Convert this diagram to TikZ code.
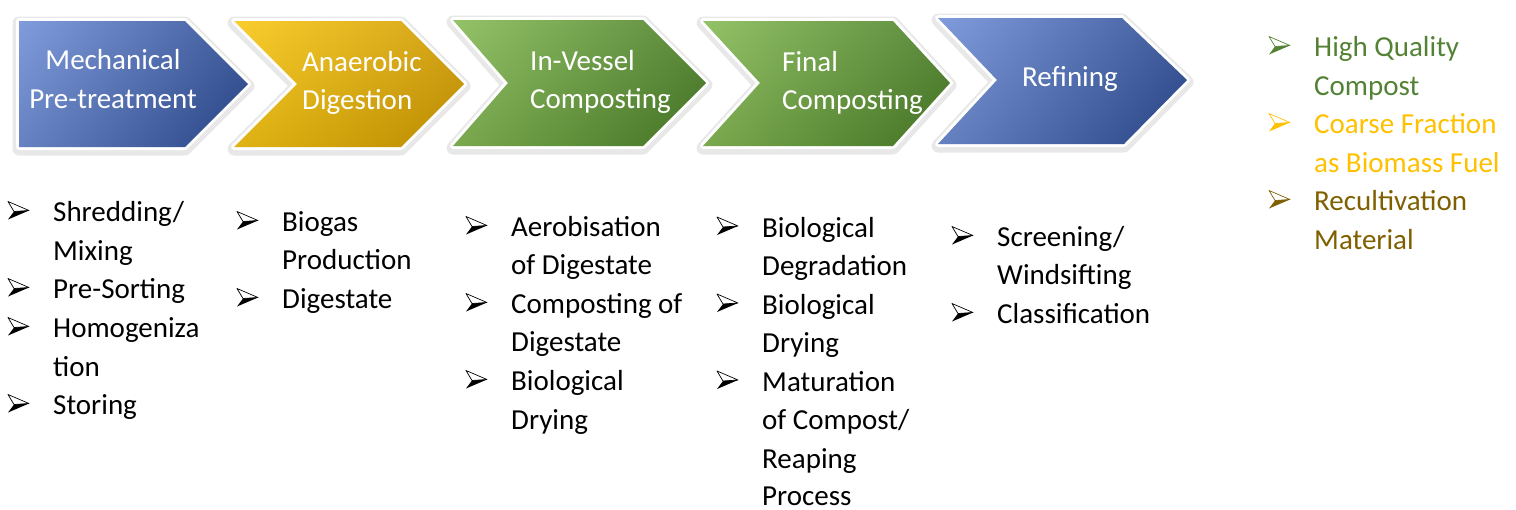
\documentclass[tikz,border=0pt]{standalone}
\usepackage{fontspec}
\setmainfont{Carlito}
\definecolor{bluL}{HTML}{7391D8}
\definecolor{bluR}{HTML}{2C4B92}
\definecolor{yelL}{HTML}{F9C816}
\definecolor{yelR}{HTML}{CF9A00}
\definecolor{grnL}{HTML}{88BC58}
\definecolor{grnR}{HTML}{4A7E27}
\definecolor{txtgreen}{HTML}{548235}
\definecolor{txtyellow}{HTML}{FFC000}
\definecolor{txtbrown}{HTML}{7F6000}
\newcommand\mychev[3]{%
  \path[glow] #1;
  \path[rim] #1;
  \shade[left color=#2, right color=#3] #1;
  \shade[top color=white, bottom color=black, fill opacity=0.10] #1;
}
\begin{document}
\begin{tikzpicture}[x=1pt,y=-1pt,line join=round]
\useasboundingbox (0,0) rectangle (1516,509);
\tikzset{
  lbl/.style={text=white, font=\fontsize{29}{38.5}\selectfont, inner sep=0pt},
  txt/.style={anchor=base west, inner sep=0pt, font=\fontsize{29}{38.5}\selectfont},
  glow/.style={draw=black!9, line width=13, yshift=-2pt},
  rim/.style={draw=white, line width=6},
  pics/bul/.style={code={
    \draw[#1, fill=white, line width=0.7] (0,-9) -- (21,0) -- (6,1) -- cycle;
    \fill[#1] (6,1) -- (21,0) -- (0,9) -- cycle;}}
}
% chevrons
\mychev{(19,21) -- (185,21) -- (248,84) -- (185,147) -- (19,147) -- cycle}{bluL}{bluR}
\mychev{(234,21) -- (401,21) -- (464,84) -- (401,147) -- (234,147) -- (297,84) -- cycle}{yelL}{yelR}
\mychev{(453,20) -- (643,20) -- (706,83) -- (643,146) -- (453,146) -- (508,83) -- cycle}{grnL}{grnR}
\mychev{(703,21) -- (893,21) -- (950,83) -- (893,146) -- (703,146) -- (760,83) -- cycle}{grnL}{grnR}
\mychev{(938,18) -- (1122,18) -- (1187,80) -- (1124,144) -- (938,144) -- (997,80) -- cycle}{bluL}{bluR}
% chevron labels
\node[lbl, align=center] (mech) at (113,79) {Mechanical\\Pre-treatment};
\node[lbl, align=left, anchor=west] (anae) at (302,83) {Anaerobic\\Digestion};
\node[lbl, align=left, anchor=west] (invs) at (530,82) {In-Vessel\\Composting};
\node[lbl, align=left, anchor=west] (finl) at (782,83) {Final\\Composting};
\node[lbl] (refn) at (1070,79) {Refining};
% column 1
\node[txt] (a1) at (53,221.5) {Shredding/};
\node[txt] (a1b) at (53,260) {Mixing};
\node[txt] (a2) at (53,298.5) {Pre-Sorting};
\node[txt] (a3) at (53,337.5) {Homogeniza};
\node[txt] (a3b) at (53,376) {tion};
\node[txt] (a4) at (53,414.5) {Storing};
% column 2
\node[txt] (b1) at (282,231.5) {Biogas};
\node[txt] (b1b) at (282,269.5) {Production};
\node[txt] (b2) at (282,308.5) {Digestate};
% column 3
\node[txt] (c1) at (511,236.5) {Aerobisation};
\node[txt] (c1b) at (511,274.5) {of Digestate};
\node[txt] (c2) at (511,313.5) {Composting of};
\node[txt] (c2b) at (511,351.5) {Digestate};
\node[txt] (c3) at (511,390.5) {Biological};
\node[txt] (c3b) at (511,429.5) {Drying};
% column 4
\node[txt] (d1) at (762,237) {Biological};
\node[txt] (d1b) at (762,275.5) {Degradation};
\node[txt] (d2) at (762,314) {Biological};
\node[txt] (d2b) at (762,352.5) {Drying};
\node[txt] (d3) at (762,391) {Maturation};
\node[txt] (d3b) at (762,429.5) {of Compost/};
\node[txt] (d3c) at (762,468) {Reaping};
\node[txt, text depth=0pt] (d3d) at (762,505) {Process};
% column 5
\node[txt] (e1) at (997,246.5) {Screening/};
\node[txt] (e1b) at (997,284.5) {Windsifting};
\node[txt] (e2) at (997,323.5) {Classification};
% column 6
\node[txt, text=txtgreen] (f1) at (1314,56.5) {High Quality};
\node[txt, text=txtgreen] (f1b) at (1314,95.5) {Compost};
\node[txt, text=txtyellow] (f2) at (1314,133.5) {Coarse Fraction};
\node[txt, text=txtyellow] (f2b) at (1314,172.5) {as Biomass Fuel};
\node[txt, text=txtbrown] (f3) at (1314,210.5) {Recultivation};
\node[txt, text=txtbrown] (f3b) at (1314,249.5) {Material};
% bullets
\foreach \n in {a1,a2,a3,a4,b1,b2,c1,c2,c3,d1,d2,d3,e1,e2}
  \pic at ([shift={(-45,-11)}]\n.base west) {bul=black};
\pic at ([shift={(-45,-11)}]f1.base west) {bul=txtgreen};
\pic at ([shift={(-45,-11)}]f2.base west) {bul=txtyellow};
\pic at ([shift={(-45,-11)}]f3.base west) {bul=txtbrown};
\end{tikzpicture}
\end{document}
